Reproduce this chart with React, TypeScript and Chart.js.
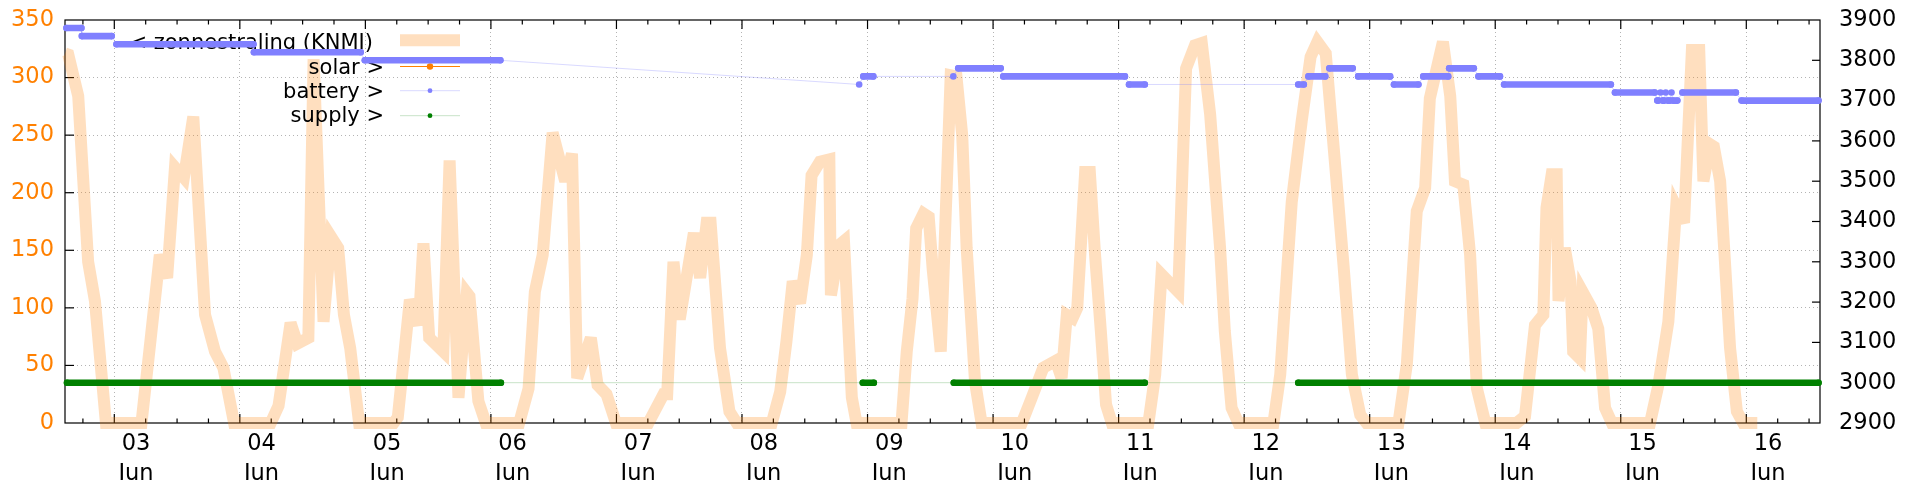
import React, { useEffect, useRef } from "react";
import { Chart, registerables } from "chart.js";

Chart.register(...registerables);

// x values are hours counted from the "03 Jun" grid line
const X_MIN = -9.425;
const X_MAX = 326.09;

// zonnestraling (KNMI), left axis
const sunHours = [
  -9.425, -8.8, -6.9, -5.0, -3.7, -1.6,
  5.2, 8.7, 10.1, 11.6, 13.3, 15.1, 17.35, 19.25, 20.85, 22.9,
  29.9, 31.4, 33.7, 35.0, 37.1, 38.1, 40.0, 41.4, 42.8, 43.9, 45.1, 46.8,
  53.4, 54.2, 56.5, 58.2, 59.1, 60.2, 62.9, 64.1, 65.8, 67.4, 67.9, 69.6, 71.0,
  77.4, 79.2, 80.4, 81.9, 83.8, 86.2, 87.5, 88.5, 91.1, 92.4, 94.1, 95.9,
  102.1, 105.0, 105.7, 106.9, 108.1, 110.8, 112.0, 113.25, 114.0, 115.8, 117.6, 119.0,
  125.7, 127.3, 128.5, 129.7, 131.1, 132.4, 133.3, 134.9, 136.7, 137.0, 138.7, 139.5, 141.0, 141.9,
  150.5, 151.5, 152.6, 153.3, 154.7, 155.7, 156.45, 158.0, 159.9, 161.0, 162.1, 162.95, 164.55, 165.8,
  173.5, 175.4, 177.6, 180.0, 181.1, 182.1, 183.2, 184.1, 185.6, 186.5, 187.5, 188.6, 189.6, 190.7,
  197.7, 199.0, 200.2, 203.4, 204.9, 206.6, 207.9, 209.5, 211.4, 212.3, 213.6, 214.9,
  221.6, 222.9, 225.1, 227.0, 228.7, 230.0, 231.6, 233.4, 235.0, 236.6, 238.2, 239.4,
  245.5, 247.1, 249.0, 250.6, 251.5, 254.0, 255.4, 256.3, 257.9, 259.2, 260.5, 262.1,
  268.1, 269.7, 271.6, 273.2, 273.8, 274.8, 275.75, 276.1, 277.3, 278.4, 278.9, 280.2, 280.7, 282.4, 283.7, 285.0, 286.3,
  293.6, 295.2, 297.1, 298.6, 300.1, 301.6, 303.0, 303.8, 305.1, 305.8, 307.0, 308.9, 310.2, 311.4, 314.1,
];
const sunValues = [
  321, 320, 284, 140, 106, 0,
  0, 146, 126, 222, 213, 266, 94, 62, 48, 0,
  0, 15, 87, 69, 74, 316, 88, 162, 152, 94, 65, 0,
  0, 5, 107, 85, 156, 74, 62, 228, 22, 113, 110, 19, 0,
  0, 30, 114, 146, 252, 210, 234, 39, 74, 33, 25, 0,
  0, 25, 25, 140, 90, 165, 126, 174, 174, 65, 10, 0,
  0, 27, 71, 123, 104, 146, 215, 227, 229, 111, 155, 158, 22, 0,
  0, 62, 108, 169, 182, 179, 134, 62, 302, 301, 250, 152, 36, 0,
  0, 22, 48, 54, 39, 94, 91, 100, 218, 218, 146, 80, 16, 0,
  0, 42, 129, 114, 308, 328, 330, 268, 152, 80, 13, 0,
  0, 42, 192, 262, 318, 331, 321, 224, 137, 42, 7, 0,
  0, 51, 184, 204, 282, 331, 284, 210, 207, 146, 30, 0,
  0, 6, 85, 94, 187, 216, 216, 106, 152, 123, 62, 56, 114, 100, 82, 13, 0,
  0, 33, 88, 188, 174, 324, 324, 210, 242, 240, 210, 65, 10, 0, 0,
];

// solar: no samples in this period
const solarHours: number[] = [];
const solarValues: number[] = [];

// battery, right axis: runs of constant level (start hour, end hour, level)
const batteryStart = [
  -9.14, -6.2, 0.42, 26.7, 47.9, 142.4, 143.2, 160.4, 161.35, 169.96, 194.0,
  226.35, 228.3, 232.3, 237.8, 244.65, 250.25, 255.2, 260.8, 265.7, 286.9,
  295.0, 295.6, 296.0, 296.6, 297.0, 297.7, 298.0, 299.8, 311.1,
];
const batteryEnd = [
  -6.3, -0.5, 26.6, 47.1, 73.8, 142.4, 145.1, 160.4, 169.45, 193.2, 197.0,
  227.4, 231.5, 236.75, 243.9, 249.3, 255.0, 259.9, 264.9, 286.1, 294.5,
  295.2, 295.6, 296.3, 296.6, 297.4, 297.7, 298.8, 310.0, 325.8,
];
const batteryLevel = [
  3880, 3860, 3840, 3820, 3800, 3740, 3760, 3760, 3780, 3760, 3740,
  3740, 3760, 3780, 3760, 3740, 3760, 3780, 3760, 3740, 3720,
  3700, 3720, 3700, 3720, 3700, 3720, 3700, 3720, 3700,
];

// supply, right axis
const supplyStart = [-9.04, 143.1, 160.5, 226.35];
const supplyEnd = [73.9, 145.2, 197.0, 325.8];
const supplyLevel = [3000, 3000, 3000, 3000];

// axes
const leftTicks = [0, 50, 100, 150, 200, 250, 300, 350];
const rightTicks = [2900, 3000, 3100, 3200, 3300, 3400, 3500, 3600, 3700, 3800, 3900];
const dayTickHours = [0, 24, 48, 72, 96, 120, 144, 168, 192, 216, 240, 264, 288, 312];
const dayLabels = ["03", "04", "05", "06", "07", "08", "09", "10", "11", "12", "13", "14", "15", "16"];
const monthLabel = "Jun";
const keyLabels = ["< zonnestraling (KNMI)", "solar >", "battery >", "supply >"];

const FONT = '"DejaVu Sans"';
const PEACH = "rgba(255,128,0,0.25)";
const ORANGE = "#ff8000";
const BLUE = "rgb(128,128,255)";
const BLUE_LIGHT = "rgba(128,128,255,0.3)";
const GREEN = "rgb(0,128,0)";
const GREEN_LIGHT = "rgba(0,128,0,0.22)";
const GRID = "#b4b4b4";

function xTicks(): number[] {
  const out: number[] = [];
  for (let h = -6; h <= 324; h += 6) out.push(h);
  return out;
}
const xTickHours = xTicks();

function runSeries(starts: number[], ends: number[], levels: number[]) {
  const pts: { x: number; y: number }[] = [];
  const ids: number[] = [];
  starts.forEach((s, i) => {
    pts.push({ x: s, y: levels[i] });
    ids.push(i);
    if (ends[i] !== s) {
      pts.push({ x: ends[i], y: levels[i] });
      ids.push(i);
    }
  });
  return { pts, ids };
}

function noPad(s: any) {
  s.paddingTop = 0;
  s.paddingBottom = 0;
  s.paddingLeft = 0;
  s.paddingRight = 0;
}

const keyPlugin = {
  id: "gpKey",
  beforeDatasetDraw(chart: any, args: any) {
    if (args.index !== 0) return;
    chart.ctx.save();
    chart.ctx.miterLimit = 4;
  },
  afterDatasetDraw(chart: any, args: any) {
    if (args.index !== 0) return;
    const ctx = chart.ctx as CanvasRenderingContext2D;
    ctx.restore();
    ctx.save();
    ctx.font = `21px ${FONT}`;
    ctx.fillStyle = "#000";
    ctx.textAlign = "right";
    ctx.textBaseline = "alphabetic";
    const baselines = [49, 73.5, 97.8, 122.2];
    const rights = [373, 384, 384, 384];
    keyLabels.forEach((t, i) => ctx.fillText(t, rights[i], baselines[i]));
    ctx.lineCap = "butt";
    ctx.strokeStyle = PEACH;
    ctx.lineWidth = 12;
    ctx.beginPath();
    ctx.moveTo(400, 40.2);
    ctx.lineTo(460, 40.2);
    ctx.stroke();
    const rows = [
      { y: 66.5, line: ORANGE, dot: ORANGE, r: 3.2 },
      { y: 90.7, line: BLUE_LIGHT, dot: BLUE, r: 2.4 },
      { y: 115.7, line: GREEN_LIGHT, dot: GREEN, r: 2.4 },
    ];
    rows.forEach((r) => {
      ctx.strokeStyle = r.line;
      ctx.lineWidth = 1;
      ctx.beginPath();
      ctx.moveTo(400, r.y);
      ctx.lineTo(460, r.y);
      ctx.stroke();
      ctx.fillStyle = r.dot;
      ctx.beginPath();
      ctx.arc(430, r.y, r.r, 0, Math.PI * 2);
      ctx.fill();
    });
    ctx.restore();
  },
};

const framePlugin = {
  id: "gpFrame",
  beforeDatasetsDraw(chart: any) {
    const ctx = chart.ctx as CanvasRenderingContext2D;
    const a = chart.chartArea;
    const sx = chart.scales.x;
    const sy = chart.scales.y;
    const sy2 = chart.scales.y2;
    ctx.save();
    ctx.strokeStyle = "#000";
    ctx.lineWidth = 1.2;
    ctx.strokeRect(a.left, a.top, a.right - a.left, a.bottom - a.top);
    const seg = (x1: number, y1: number, x2: number, y2: number) => {
      ctx.beginPath();
      ctx.moveTo(x1, y1);
      ctx.lineTo(x2, y2);
      ctx.stroke();
    };
    leftTicks.forEach((v) => {
      if (v <= 0 || v >= 350) return;
      const y = sy.getPixelForValue(v);
      seg(a.left, y, a.left + 9, y);
    });
    rightTicks.forEach((v) => {
      if (v <= 2900 || v >= 3900) return;
      const y = sy2.getPixelForValue(v);
      seg(a.right, y, a.right - 8, y);
    });
    xTickHours.forEach((h) => {
      const x = sx.getPixelForValue(h);
      const len = dayTickHours.includes(h) ? 9 : 4.5;
      seg(x, a.bottom, x, a.bottom - len);
      seg(x, a.top, x, a.top + len);
    });
    ctx.restore();
  },
};

export default function App() {
  const ref = useRef<HTMLCanvasElement>(null);
  useEffect(() => {
    const bat = runSeries(batteryStart, batteryEnd, batteryLevel);
    const sup = runSeries(supplyStart, supplyEnd, supplyLevel);
    const tickFont = { family: FONT, size: 22.5 };
    const chart = new Chart(ref.current!, {
      type: "line",
      data: {
        datasets: [
          {
            label: "zonnestraling (KNMI)",
            data: sunHours.map((h, i) => ({ x: h, y: sunValues[i] })),
            yAxisID: "y",
            borderColor: PEACH,
            borderWidth: 12,
            borderJoinStyle: "miter",
            borderCapStyle: "butt",
            pointRadius: 0,
            fill: false,
            clip: false,
            order: 3,
          },
          {
            label: "solar",
            data: solarHours.map((h, i) => ({ x: h, y: solarValues[i] })),
            yAxisID: "y",
            borderColor: ORANGE,
            borderWidth: 1,
            pointRadius: 3,
            pointBackgroundColor: ORANGE,
            clip: false,
            order: 2,
          },
          {
            label: "battery",
            data: bat.pts,
            yAxisID: "y2",
            borderColor: BLUE_LIGHT,
            borderWidth: 1,
            borderCapStyle: "round",
            pointRadius: 3.3,
            pointBorderWidth: 0,
            pointBackgroundColor: BLUE,
            clip: false,
            order: 1,
            segment: {
              borderWidth: (c: any) => (bat.ids[c.p0DataIndex] === bat.ids[c.p1DataIndex] ? 6.6 : 1),
              borderColor: (c: any) => (bat.ids[c.p0DataIndex] === bat.ids[c.p1DataIndex] ? BLUE : BLUE_LIGHT),
            },
          },
          {
            label: "supply",
            data: sup.pts,
            yAxisID: "y2",
            borderColor: GREEN_LIGHT,
            borderWidth: 1,
            borderCapStyle: "round",
            pointRadius: 3.3,
            pointBorderWidth: 0,
            pointBackgroundColor: GREEN,
            clip: false,
            order: 0,
            segment: {
              borderWidth: (c: any) => (sup.ids[c.p0DataIndex] === sup.ids[c.p1DataIndex] ? 6.6 : 1),
              borderColor: (c: any) => (sup.ids[c.p0DataIndex] === sup.ids[c.p1DataIndex] ? GREEN : GREEN_LIGHT),
            },
          },
        ],
      },
      options: {
        responsive: false,
        animation: false,
        devicePixelRatio: 1,
        events: [],
        layout: { padding: { top: 20, left: 0, right: 0, bottom: 0 }, autoPadding: false },
        plugins: { legend: { display: false }, tooltip: { enabled: false } },
        scales: {
          x: {
            type: "linear",
            min: X_MIN,
            max: X_MAX,
            afterBuildTicks: (s: any) => {
              s.ticks = xTickHours.map((v) => ({ value: v }));
            },
            afterFit: (s: any) => {
              s.height = 57;
              noPad(s);
            },
            ticks: {
              autoSkip: false,
              maxRotation: 0,
              minRotation: 0,
              padding: 7,
              labelOffset: 21.7,
              color: "#000",
              font: { family: FONT, size: 22.5, lineHeight: 1.3 },
              callback: (v: any) => {
                const i = dayTickHours.indexOf(Number(v));
                return i >= 0 ? [dayLabels[i], monthLabel] : "";
              },
            },
            grid: {
              drawTicks: false,
              lineWidth: 1,
              color: (c: any) => (c.tick && dayTickHours.includes(c.tick.value) ? GRID : "rgba(0,0,0,0)"),
            },
            border: { display: false, dash: [1, 3] },
          },
          y: {
            type: "linear",
            position: "left",
            min: 0,
            max: 350,
            afterBuildTicks: (s: any) => {
              s.ticks = leftTicks.map((v) => ({ value: v }));
            },
            afterFit: (s: any) => {
              s.width = 65;
              noPad(s);
            },
            ticks: { padding: 11, color: ORANGE, font: tickFont, callback: (v: any) => String(v) },
            grid: {
              drawTicks: false,
              lineWidth: 1,
              color: (c: any) => (c.tick && c.tick.value > 0 && c.tick.value < 350 ? GRID : "rgba(0,0,0,0)"),
            },
            border: { display: false, dash: [1, 3] },
          },
          y2: {
            type: "linear",
            position: "right",
            min: 2900,
            max: 3900,
            afterBuildTicks: (s: any) => {
              s.ticks = rightTicks.map((v) => ({ value: v }));
            },
            afterFit: (s: any) => {
              s.width = 100;
              noPad(s);
            },
            ticks: { padding: 19, color: "#000", font: tickFont, callback: (v: any) => String(v) },
            grid: { drawOnChartArea: false, drawTicks: false },
            border: { display: false },
          },
        },
      } as any,
      plugins: [framePlugin, keyPlugin],
    } as any);
    return () => chart.destroy();
  }, []);
  return (
    <div style={{ position: "fixed", left: 0, top: 0, width: 1920, height: 480, background: "#fff" }}>
      <canvas ref={ref} width={1920} height={480} style={{ width: 1920, height: 480, display: "block" }} />
    </div>
  );
}
